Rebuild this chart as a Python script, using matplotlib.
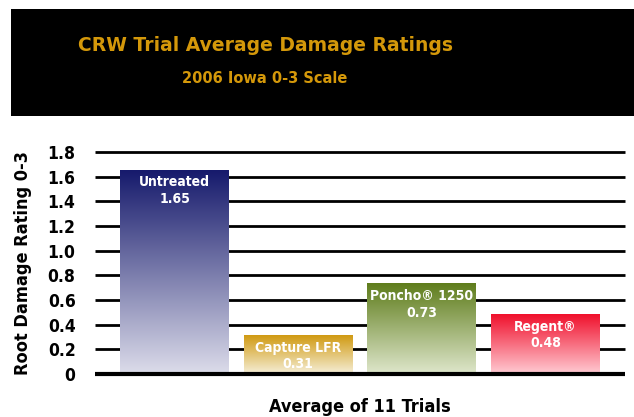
import numpy as np
import matplotlib
matplotlib.use("Agg")
import matplotlib.pyplot as plt
from matplotlib.colors import LinearSegmentedColormap
from matplotlib.patches import Rectangle

title = "CRW Trial Average Damage Ratings"
subtitle = "2006 Iowa 0-3 Scale"
treatments = ["Untreated", "Capture LFR", "Poncho\u00ae 1250", "Regent\u00ae"]
ratings = [1.65, 0.31, 0.73, 0.48]
top_colors = ["#161a6c", "#d09a12", "#5f7d1c", "#f0102c"]
bottom_colors = ["#dcdcea", "#f6efd8", "#dfe7cc", "#ffccd4"]
yticks = [0, 0.2, 0.4, 0.6, 0.8, 1.0, 1.2, 1.4, 1.6, 1.8]
ytick_labels = ["0", "0.2", "0.4", "0.6", "0.8", "1.0", "1.2", "1.4", "1.6", "1.8"]

gold = "#d4980a"
cond = dict(family="DejaVu Sans", fontstretch="condensed", fontweight="bold")

fig = plt.figure(figsize=(6.34, 4.17), dpi=100)
fig.patches.append(Rectangle((11 / 634, 1 - 116 / 417), 1, 107 / 417,
                             transform=fig.transFigure, facecolor="black",
                             edgecolor="none", zorder=0))
fig.text(0.418, 0.890, title, color=gold, fontsize=13.5, fontweight="bold",
         ha="center", va="center", family="DejaVu Sans")
fig.text(0.418, 0.811, subtitle, color=gold, fontsize=10.5, fontweight="bold",
         ha="center", va="center", family="DejaVu Sans")

ax = fig.add_axes([95 / 634, 43 / 417, 530 / 634, 222 / 417])
x = np.arange(len(treatments))
width = 0.88
ax.set_xlim(-0.643, len(treatments) - 1 + 0.643)
ax.set_ylim(0, 1.8)

# grid lines behind bars
ax.hlines(yticks[1:], *ax.get_xlim(), colors="black", linewidth=2, zorder=1, clip_on=False)
ax.hlines([0], *ax.get_xlim(), colors="black", linewidth=3, zorder=4, clip_on=False)

grad = np.linspace(1, 0, 256).reshape(-1, 1)
for i, (val, name) in enumerate(zip(ratings, treatments)):
    cmap = LinearSegmentedColormap.from_list("g%d" % i, [bottom_colors[i], top_colors[i]])
    left = x[i] - width / 2
    ax.imshow(grad, cmap=cmap, aspect="auto", extent=(left, left + width, 0, val),
              zorder=2, vmin=0, vmax=1)
    ax.annotate(f"{name}\n{val:.2f}", xy=(x[i], val), xytext=(0, -3.5),
                textcoords="offset points", ha="center", va="top",
                color="white", fontsize=10, linespacing=1.25, zorder=5, **cond)

for s in ax.spines.values():
    s.set_visible(False)
ax.set_xticks([])
ax.set_yticks(yticks)
ax.set_yticklabels(ytick_labels, fontsize=12.5, **cond)
ax.tick_params(axis="y", length=0, pad=14)
ax.set_ylabel("Root Damage Rating 0-3", fontsize=13, labelpad=11, **cond)
fig.text(0.568, 1 - 407 / 417, "Average of 11 Trials", fontsize=13,
         ha="center", va="center", **cond)

fig.savefig("out.png", dpi=100)
